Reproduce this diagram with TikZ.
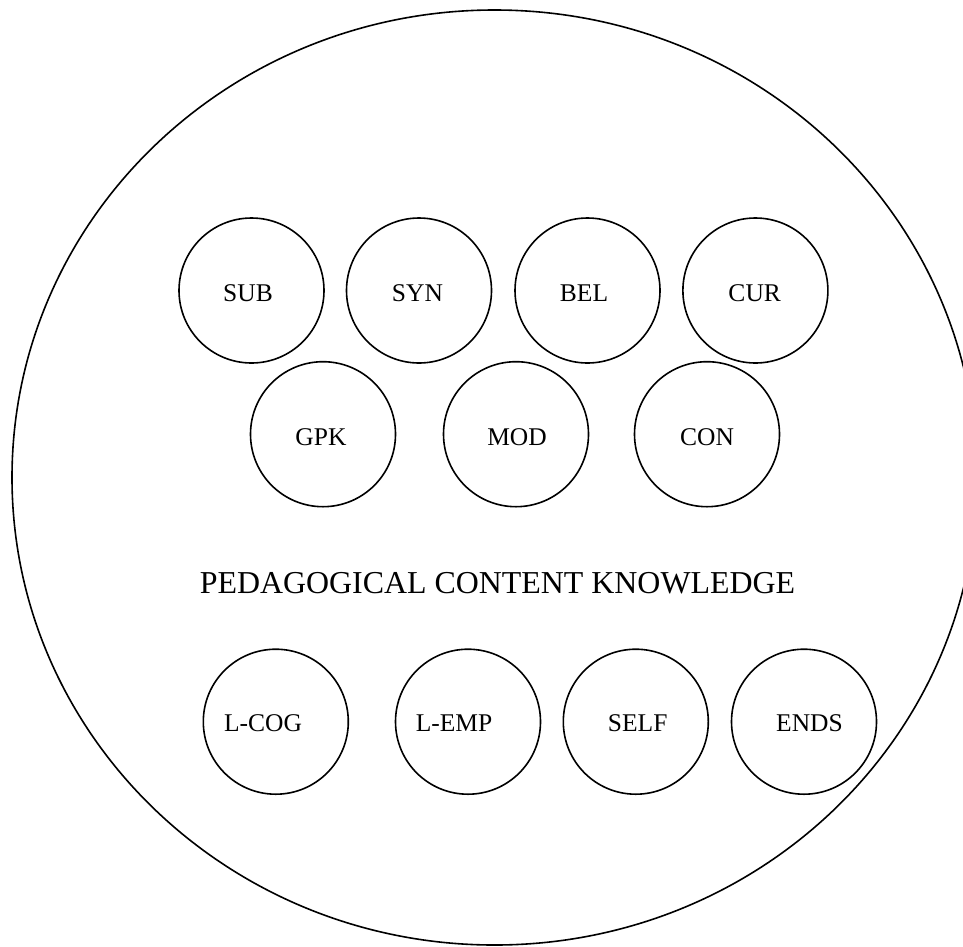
\documentclass[tikz,border=0pt]{standalone}
\usepackage{fontspec}
\setmainfont{Liberation Serif}
\begin{document}
\begin{tikzpicture}[x=1pt,y=-1pt,line width=1.6pt,
  blob/.style={circle, draw, minimum size=145pt, inner sep=0pt},
  lbl/.style={font=\fontsize{25.5}{28}\selectfont, inner sep=0pt, anchor=base},
  ttl/.style={font=\fontsize{31.9}{36}\selectfont, inner sep=0pt, anchor=base}]
\clip (0,0) rectangle (963,946);
\path[use as bounding box] (0,0) rectangle (963,946);
\draw (494.5,477.5) ellipse [x radius=482.5, y radius=467.5];
% row 1
\node[blob] (sub) at (251.5,290.5) {};
\node[blob] (syn) at (419,290.5) {};
\node[blob] (bel) at (587.5,290.5) {};
\node[blob] (cur) at (755.4,290.5) {};
\node[lbl] (tsub) at (248,301.7) {SUB};
\node[lbl] (tsyn) at (417.5,301.7) {SYN};
\node[lbl] (tbel) at (584,301.7) {BEL};
\node[lbl] (tcur) at (754.7,301.7) {CUR};
% row 2
\node[blob] (gpk) at (323,434.2) {};
\node[blob] (mod) at (516,434.2) {};
\node[blob] (con) at (707,434.2) {};
\node[lbl] (tgpk) at (321,445) {GPK};
\node[lbl] (tmod) at (517,445) {MOD};
\node[lbl] (tcon) at (707,445) {CON};
% title
\node[ttl] (title) at (497.5,593.3) {PEDAGOGICAL CONTENT KNOWLEDGE};
% row 3
\node[blob] (lcog) at (275.8,721.7) {};
\node[blob] (lemp) at (468,721.7) {};
\node[blob] (self) at (635.8,721.7) {};
\node[blob] (ends) at (804,721.7) {};
\node[lbl] (tlcog) at (263,731.7) {L-COG};
\node[lbl] (tlemp) at (454,731.7) {L-EMP};
\node[lbl] (tself) at (637.7,731.7) {SELF};
\node[lbl] (tends) at (809.5,731.7) {ENDS};
\end{tikzpicture}
\end{document}
